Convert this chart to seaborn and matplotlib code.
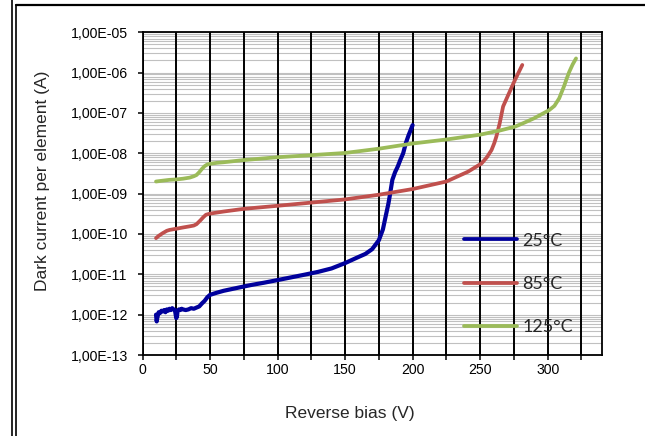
import numpy as np
import pandas as pd
import matplotlib
matplotlib.use("Agg")
import matplotlib.pyplot as plt
from matplotlib.ticker import MultipleLocator, LogLocator, FuncFormatter, NullFormatter
from matplotlib.lines import Line2D
import seaborn as sns

# ---- data ----
v25 = [10, 10.5, 11, 12, 13, 14, 15, 16, 17, 18, 19, 20, 21, 22, 23, 24, 25, 25.5, 26, 27,
       28, 29, 30, 32, 34, 36, 38, 40, 42, 44, 46, 48, 50, 55, 60, 70, 80, 90, 100, 110,
       120, 130, 140, 150, 160, 165, 170, 175, 178, 180, 182, 183, 185, 187, 189, 191,
       193, 195, 197, 200]
i25 = [1.0e-12, 0.68e-12, 0.85e-12, 1.15e-12, 1.1e-12, 1.25e-12, 1.2e-12, 1.3e-12, 1.15e-12,
       1.35e-12, 1.25e-12, 1.4e-12, 1.3e-12, 1.45e-12, 1.35e-12, 1.3e-12, 0.82e-12, 0.9e-12,
       1.25e-12, 1.35e-12, 1.3e-12, 1.4e-12, 1.35e-12, 1.3e-12, 1.35e-12, 1.45e-12, 1.4e-12,
       1.5e-12, 1.6e-12, 1.9e-12, 2.2e-12, 2.7e-12, 3.1e-12, 3.5e-12, 3.9e-12, 4.6e-12,
       5.4e-12, 6.2e-12, 7.2e-12, 8.4e-12, 9.8e-12, 11.5e-12, 14e-12, 19e-12, 27e-12,
       32e-12, 42e-12, 70e-12, 130e-12, 270e-12, 550e-12, 850e-12, 2.2e-9, 3.4e-9, 4.7e-9,
       7e-9, 1.0e-8, 1.8e-8, 2.8e-8, 5.0e-8]

v85 = [10, 12, 15, 18, 20, 25, 30, 35, 38, 40, 43, 45, 47, 50, 60, 75, 100, 125, 150, 175, 200,
       225, 241, 251, 255, 258.4, 260.5, 262, 264.5, 267, 270.8, 275.8, 281.2]
i85 = [7.9e-11, 9e-11, 1.05e-10, 1.2e-10, 1.26e-10, 1.35e-10, 1.45e-10, 1.55e-10, 1.62e-10,
       1.75e-10, 2.2e-10, 2.6e-10, 3.0e-10, 3.2e-10, 3.6e-10, 4.2e-10, 5.0e-10, 6.0e-10,
       7.2e-10, 9.4e-10, 1.3e-9, 2.0e-9, 3.5e-9, 5.6e-9, 8e-9, 1.2e-8, 1.8e-8, 2.6e-8, 5.6e-8,
       1.45e-7, 2.8e-7, 6.6e-7, 1.55e-6]

v125 = [10, 15, 20, 25, 30, 35, 38, 40, 42, 44, 46, 48, 50, 55, 60, 75, 100, 125, 150, 175,
        200, 225, 250, 265, 276, 283, 290, 296, 301, 305, 308.5, 312, 314, 316, 318.5, 321]
i125 = [2.0e-9, 2.1e-9, 2.2e-9, 2.25e-9, 2.35e-9, 2.5e-9, 2.7e-9, 2.9e-9, 3.4e-9, 4.1e-9,
        4.8e-9, 5.3e-9, 5.5e-9, 5.8e-9, 6.0e-9, 6.8e-9, 8.0e-9, 9.0e-9, 1.02e-8, 1.3e-8,
        1.75e-8, 2.2e-8, 2.9e-8, 3.7e-8, 4.6e-8, 5.8e-8, 7.4e-8, 9.5e-8, 1.17e-7, 1.5e-7,
        2.3e-7, 4.5e-7, 7e-7, 1.05e-6, 1.6e-6, 2.25e-6]

labels = ["25°C", "85°C", "125°C"]
colors = ["#00009C", "#C0504D", "#9BBB59"]

df = pd.concat([
    pd.DataFrame({"V": v25, "I": i25, "T": labels[0]}),
    pd.DataFrame({"V": v85, "I": i85, "T": labels[1]}),
    pd.DataFrame({"V": v125, "I": i125, "T": labels[2]}),
], ignore_index=True)

sns.set_style("white")
plt.rcParams["font.family"] = ["Liberation Sans", "DejaVu Sans"]

W, H = 645, 436
fig = plt.figure(figsize=(W / 100, H / 100), dpi=100)
L, R, T, B = 142.5, 601.7, 32.3, 355.0
ax = fig.add_axes([L / W, (H - B) / H, (R - L) / W, (B - T) / H])

sns.lineplot(data=df, x="V", y="I", hue="T", palette=dict(zip(labels, colors)),
             estimator=None, linewidth=2.7, ax=ax, zorder=5)
ax.get_lines()[0].set_linewidth(3.0)

ax.set_yscale("log")
ax.set_ylim(1e-13, 1e-5)
ax.set_xlim(0, 340)

ax.xaxis.set_major_locator(MultipleLocator(50))
ax.xaxis.set_minor_locator(MultipleLocator(25))
ax.yaxis.set_major_locator(LogLocator(base=10, numticks=20))
ax.yaxis.set_minor_locator(LogLocator(base=10, subs=np.arange(2, 10), numticks=200))
ax.yaxis.set_minor_formatter(NullFormatter())
ax.yaxis.set_major_formatter(FuncFormatter(lambda v, p: f"1,00E{int(round(np.log10(v))):03d}"))

ax.grid(True, which="both", axis="y", color="#c0c0c0", linewidth=0.8)
ax.grid(True, which="both", axis="x", color="black", linewidth=1.4)
ax.set_axisbelow(True)
ax.yaxis.set_zorder(0.4)
ax.xaxis.set_zorder(0.6)

ax.tick_params(axis="x", which="both", direction="out", length=3.5, width=1.1,
               colors="black", labelsize=10.2, pad=2, bottom=True)
ax.tick_params(axis="y", which="major", direction="out", length=3.6, width=1.1,
               colors="black", labelsize=10.2, pad=7, left=True)
ax.tick_params(axis="y", which="minor", left=False)

for s in ax.spines.values():
    s.set_color("black")
    s.set_linewidth(1.3)
    s.set_zorder(6)

ax.set_xlabel("Reverse bias (V)", fontsize=12.5)
ax.set_ylabel("Dark current per element (A)", fontsize=12.5)
ax.xaxis.set_label_coords((349.7 - L) / (R - L), (B - 413) / (B - T))
ax.xaxis.label.set_va("center")
ax.yaxis.set_label_coords((43 - L) / (R - L), (B - 181) / (B - T))
ax.yaxis.label.set_va("center")

leg = ax.legend(frameon=False, loc="upper left",
                bbox_to_anchor=((464 - L) / (R - L), (B - 232.5) / (B - T)),
                borderpad=0, borderaxespad=0, handlelength=2.95, handletextpad=0.28,
                labelspacing=1.52, prop={"family": ["Lato", "DejaVu Sans"], "size": 13})
leg.set_zorder(7)
for h in leg.get_lines():
    h.set_linewidth(2.7)

# outer chart frame
fig.add_artist(Line2D([12 / W, 12 / W], [0, 1], color="black", linewidth=1.2))
fig.add_artist(Line2D([15.7 / W, 15.7 / W], [0, 1 - 4.7 / H], color="black", linewidth=1.2))
fig.add_artist(Line2D([15.7 / W, 1], [1 - 4.7 / H, 1 - 4.7 / H], color="black", linewidth=1.6))

fig.savefig("out.png", dpi=100)
